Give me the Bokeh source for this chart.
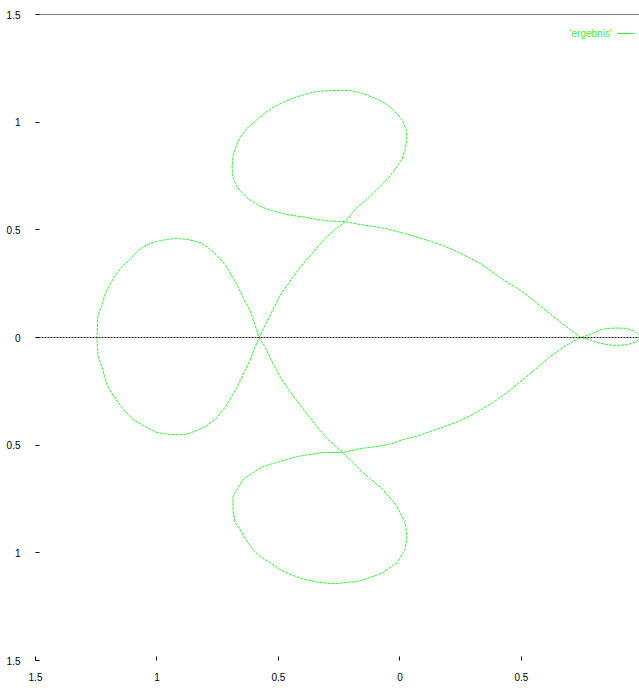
from bokeh.plotting import figure
from bokeh.models import Range1d, Span, Label, FixedTicker
from bokeh.embed import file_html
from bokeh.resources import INLINE

# Closed parametric curve (one traversal, starting at the right-hand crossing)
curve_x = [
    0.745, 0.700, 0.646, 0.605, 0.564, 0.523, 0.481, 0.424, 0.383, 0.329,
    0.276, 0.214, 0.165, 0.123, 0.082, 0.041, -0.012, -0.058, -0.111, -0.165,
    -0.226, -0.288, -0.342, -0.379, -0.424, -0.465, -0.523, -0.564, -0.588, -0.626,
    -0.650, -0.671, -0.687, -0.691, -0.687, -0.679, -0.658, -0.630, -0.597, -0.564,
    -0.523, -0.481, -0.432, -0.379, -0.342, -0.276, -0.206, -0.165, -0.132, -0.091,
    -0.053, -0.021, 0.008, 0.025, 0.029, 0.021, 0.008, -0.021, -0.053, -0.095,
    -0.136, -0.177, -0.226, -0.267, -0.309, -0.362, -0.412, -0.453, -0.494, -0.535,
    -0.580, -0.597, -0.617, -0.646, -0.671, -0.700, -0.720, -0.753, -0.794, -0.835,
    -0.885, -0.947, -1.000, -1.041, -1.099, -1.144, -1.181, -1.206, -1.226, -1.243,
    -1.247, -1.243, -1.226, -1.214, -1.193, -1.173, -1.144, -1.111, -1.078, -1.041,
    -1.000, -0.963, -0.918, -0.872, -0.823, -0.790, -0.757, -0.720, -0.700, -0.671,
    -0.646, -0.617, -0.597, -0.580, -0.556, -0.535, -0.494, -0.453, -0.412, -0.362,
    -0.296, -0.235, -0.152, -0.070, -0.012, 0.021, 0.029, 0.021, -0.012, -0.070,
    -0.123, -0.177, -0.267, -0.329, -0.391, -0.440, -0.494, -0.535, -0.576, -0.605,
    -0.634, -0.658, -0.679, -0.687, -0.687, -0.671, -0.646, -0.605, -0.564, -0.494,
    -0.424, -0.370, -0.317, -0.235, -0.165, -0.095, -0.029, 0.012, 0.070, 0.123,
    0.177, 0.235, 0.288, 0.342, 0.399, 0.453, 0.506, 0.564, 0.617, 0.671,
    0.712, 0.745, 0.782, 0.823, 0.852, 0.893, 0.934, 0.967, 0.992, 0.975,
    0.938, 0.893, 0.852, 0.811, 0.778, 0.745,
]
curve_y = [
    0.000, 0.037, 0.084, 0.121, 0.160, 0.196, 0.230, 0.269, 0.302, 0.345,
    0.376, 0.410, 0.432, 0.448, 0.462, 0.476, 0.492, 0.506, 0.516, 0.525,
    0.538, 0.541, 0.548, 0.557, 0.564, 0.571, 0.588, 0.604, 0.618, 0.646,
    0.673, 0.701, 0.743, 0.790, 0.841, 0.873, 0.929, 0.971, 1.003, 1.036,
    1.068, 1.092, 1.115, 1.133, 1.143, 1.147, 1.147, 1.138, 1.124, 1.105,
    1.082, 1.050, 1.013, 0.966, 0.920, 0.873, 0.827, 0.780, 0.734, 0.687,
    0.641, 0.604, 0.538, 0.502, 0.460, 0.390, 0.325, 0.260, 0.195, 0.102,
    0.000, -0.046, -0.107, -0.172, -0.232, -0.288, -0.325, -0.372, -0.409, -0.432,
    -0.451, -0.451, -0.441, -0.418, -0.381, -0.325, -0.269, -0.218, -0.139, -0.084,
    0.000, 0.102, 0.153, 0.200, 0.246, 0.288, 0.330, 0.362, 0.404, 0.432,
    0.446, 0.455, 0.460, 0.455, 0.441, 0.418, 0.386, 0.339, 0.302, 0.246,
    0.186, 0.125, 0.060, 0.000, -0.042, -0.093, -0.181, -0.251, -0.311, -0.386,
    -0.474, -0.534, -0.627, -0.706, -0.785, -0.859, -0.924, -0.985, -1.045, -1.092,
    -1.115, -1.133, -1.143, -1.138, -1.124, -1.105, -1.078, -1.045, -1.017, -0.985,
    -0.938, -0.892, -0.859, -0.799, -0.739, -0.706, -0.660, -0.627, -0.599, -0.576,
    -0.553, -0.543, -0.534, -0.534, -0.516, -0.506, -0.492, -0.474, -0.458, -0.437,
    -0.416, -0.392, -0.364, -0.330, -0.290, -0.245, -0.195, -0.142, -0.090, -0.046,
    -0.019, 0.000, 0.014, 0.035, 0.042, 0.044, 0.042, 0.028, 0.005, -0.019,
    -0.033, -0.037, -0.033, -0.023, -0.009, 0.000,
]

y_ticks = [-1.5, -1.0, -0.5, 0.0, 0.5, 1.0, 1.5]
y_tick_labels = ["1.5", "1", "0.5", "0", "0.5", "1", "1.5"]
x_ticks = [-1.5, -1.0, -0.5, 0.0, 0.5]
x_tick_labels = ["1.5", "1", "0.5", "0", "0.5"]
series_name = "'ergebnis'"

FONT = "Liberation Sans"
GREEN = "#33f033"

p = figure(width=639, height=688, output_backend="svg", toolbar_location=None,
           x_range=Range1d(-1.5, 0.986), y_range=Range1d(-1.5, 1.5),
           min_border_left=35, min_border_right=0, min_border_top=14,
           min_border_bottom=28)
p.outline_line_color = None
p.xgrid.visible = False
p.ygrid.visible = False
p.background_fill_color = "white"
p.border_fill_color = "white"

# axes
for ax, ticks, labels in ((p.yaxis[0], y_ticks, y_tick_labels),
                          (p.xaxis[0], x_ticks, x_tick_labels)):
    ax.ticker = FixedTicker(ticks=ticks)
    ax.major_label_overrides = {t: l for t, l in zip(ticks, labels)}
    ax.axis_line_color = None
    ax.minor_tick_line_color = None
    ax.major_tick_in = 4
    ax.major_tick_out = 0
    ax.major_tick_line_color = "black"
    ax.major_label_text_font = FONT
    ax.major_label_text_font_size = "10px"
    ax.major_label_text_color = "black"
p.yaxis[0].major_label_standoff = 15
p.xaxis[0].major_label_standoff = 12

# top border and zero axis
p.add_layout(Span(location=1.5, dimension="width", line_color="black", line_width=1))
p.add_layout(Span(location=0, dimension="width", line_color="#222222",
                  line_width=1, line_dash="2 1"))

# the curve
p.line(curve_x, curve_y, line_color=GREEN, line_width=1, line_dash="3 1")

# key entry: label followed by a line sample
key_y = 1.412
p.add_layout(Label(x=0.872, y=key_y, text=series_name, text_align="right",
                   text_baseline="middle", text_font=FONT,
                   text_font_size="10px", text_color=GREEN))
p.segment(x0=[0.893], y0=[key_y], x1=[0.967], y1=[key_y],
          line_color=GREEN, line_width=1)

open("out.html", "w").write(file_html(p, INLINE))
